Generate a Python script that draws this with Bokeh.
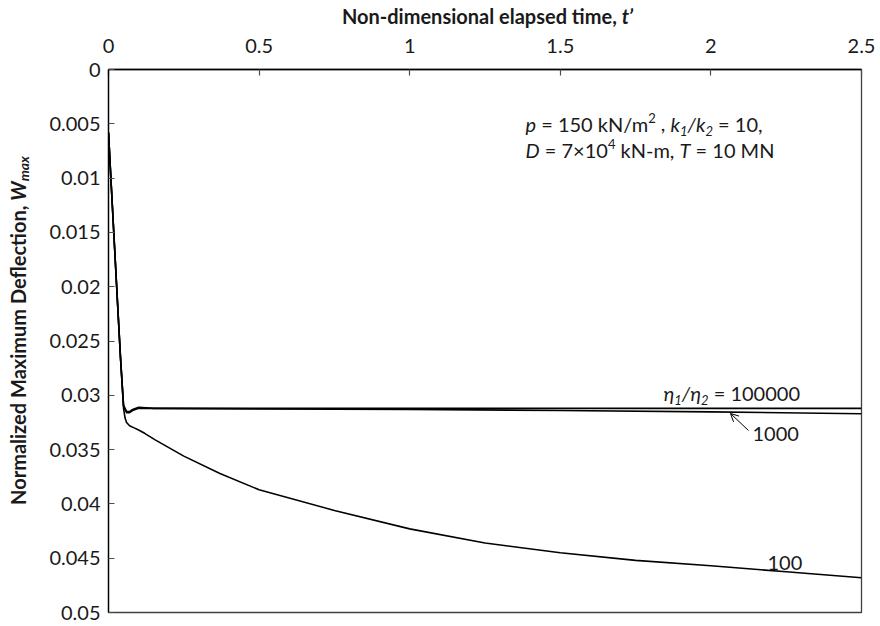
import glob
import math
import os

from bokeh.plotting import figure
from bokeh.layouts import row, column
from bokeh.models import Range1d, FixedTicker, Label, Arrow, OpenHead
from bokeh.embed import file_html
from bokeh.resources import INLINE

# ---- data: non-dimensional time t' vs normalized max deflection W_max ----
t_eta_100000 = [0.0, 0.01, 0.02, 0.03, 0.04, 0.05, 0.06, 0.07, 0.08, 0.10, 0.15,
                0.5, 1.0, 1.5, 2.0, 2.5]
w_eta_100000 = [0.0058, 0.0111, 0.0163, 0.0215, 0.0266, 0.0309, 0.0315, 0.0315,
                0.0313, 0.0311, 0.0312, 0.0312, 0.0312, 0.0312, 0.0312, 0.0312]

t_eta_1000 = [0.0, 0.01, 0.02, 0.03, 0.04, 0.05, 0.06, 0.07, 0.08, 0.10, 0.15,
              0.5, 1.0, 1.5, 2.0, 2.5]
w_eta_1000 = [0.0058, 0.0111, 0.0163, 0.0215, 0.0266, 0.0310, 0.0316, 0.0316,
              0.0314, 0.0312, 0.0312, 0.03125, 0.0313, 0.0314, 0.03153, 0.0317]

t_eta_100 = [0.0, 0.01, 0.02, 0.03, 0.04, 0.05, 0.055, 0.06, 0.07, 0.085, 0.10,
             0.12, 0.155, 0.25, 0.37, 0.5, 0.75, 1.0, 1.25, 1.5, 1.75, 2.0,
             2.25, 2.5]
w_eta_100 = [0.0058, 0.0111, 0.0163, 0.0215, 0.0266, 0.0312, 0.0321, 0.0325,
             0.0328, 0.0330, 0.0332, 0.0335, 0.0341, 0.0356, 0.0372, 0.0387,
             0.0406, 0.0423, 0.0436, 0.0445, 0.0452, 0.0457, 0.04625, 0.0468]

x_ticks = [0, 0.5, 1, 1.5, 2, 2.5]
x_tick_labels = ["0", "0.5", "1", "1.5", "2", "2.5"]
y_ticks = [0, 0.005, 0.01, 0.015, 0.02, 0.025, 0.03, 0.035, 0.04, 0.045, 0.05]
y_tick_labels = ["0", "0.005", "0.01", "0.015", "0.02", "0.025", "0.03",
                 "0.035", "0.04", "0.045", "0.05"]

# ---- page layout (pixels) ----
W, H = 880, 626
SIDE_W = 40          # strip on the left holding the vertical axis title
HEAD_H = 30          # strip on top holding the horizontal axis title
MAIN_W, MAIN_H = W - SIDE_W, H - HEAD_H
B_LEFT, B_RIGHT, B_TOP, B_BOTTOM = 68, 19, 39, 14
FRAME_L = SIDE_W + B_LEFT
FRAME_T = HEAD_H + B_TOP
FRAME_W = MAIN_W - B_LEFT - B_RIGHT
FRAME_H = MAIN_H - B_TOP - B_BOTTOM
X0, X1 = 0.0, 2.5
Y_TOP, Y_BOT = 0.0, 0.05

FONT = "Lato"
INK = "#1a1a1a"
BASELINE_FIX = 0.4   # label anchor sits this many font sizes above the baseline

# ---- text measuring, used to set mixed-style pieces side by side ----
_FONT_FILES = {"normal": "Lato-Regular.ttf", "italic": "Lato-Italic.ttf",
               "bold": "Lato-Bold.ttf", "bold italic": "Lato-BoldItalic.ttf"}
_font_cache = {}


def _font_path(fname):
    roots = ["/usr/share/fonts", "/usr/local/share/fonts",
             os.path.expanduser("~/.fonts"), os.path.expanduser("~/.local/share/fonts")]
    for root in roots:
        hits = glob.glob(os.path.join(root, "**", fname), recursive=True)
        if hits:
            return hits[0]
    return None


def text_width(s, size, style):
    key = (size, style)
    if key not in _font_cache:
        font = None
        try:
            from PIL import ImageFont
            path = _font_path(_FONT_FILES[style])
            if path:
                font = ImageFont.truetype(path, size)
        except Exception:
            font = None
        _font_cache[key] = font
    font = _font_cache[key]
    if font is None:
        return len(s) * 0.55 * size
    return font.getlength(s)


def rich(fig, to_data, px, py, pieces, angle=0.0, align="left"):
    """Lay out (text, size, style, rise) pieces one after another.
    px, py are page pixels of the baseline start; rise lifts a piece."""
    spans = []
    total = 0.0
    for s, size, style, rise in pieces:
        core = s.strip(" ")
        lead = (len(s) - len(s.lstrip(" "))) * text_width(" ", size, style)
        trail = (len(s) - len(s.rstrip(" "))) * text_width(" ", size, style)
        w = text_width(core, size, style)
        spans.append((total + lead, core, size, style, rise))
        total += lead + w + trail
    shift = {"left": 0.0, "center": total / 2, "right": total}[align]
    for off, core, size, style, rise in spans:
        if not core:
            continue
        d = off - shift
        lift = rise + BASELINE_FIX * size
        if angle == 0:
            sx, sy = px + d, py - lift
        else:  # rotated a quarter turn, reading bottom to top
            sx, sy = px - lift, py - d
        x, y = to_data(sx, sy)
        fig.add_layout(Label(x=x, y=y, text=core, text_font=FONT,
                             text_font_size=f"{size}px", text_font_style=style,
                             text_color=INK, text_align="left",
                             text_baseline="alphabetic", angle=angle))


# ---- main chart ----
p = figure(width=MAIN_W, height=MAIN_H, output_backend="svg", toolbar_location=None,
           x_range=Range1d(X0, X1), y_range=Range1d(Y_BOT, Y_TOP),
           x_axis_location="above",
           min_border_left=B_LEFT, min_border_right=B_RIGHT,
           min_border_top=B_TOP, min_border_bottom=B_BOTTOM,
           background_fill_color="white", border_fill_color="white")

p.xgrid.visible = False
p.ygrid.visible = False
p.outline_line_color = "#404040"
p.outline_line_width = 1.3

for ax, ticks, labels in ((p.xaxis[0], x_ticks, x_tick_labels),
                          (p.yaxis[0], y_ticks, y_tick_labels)):
    ax.ticker = FixedTicker(ticks=ticks)
    ax.major_label_overrides = dict(zip(ticks, labels))
    ax.axis_line_color = "black"
    ax.axis_line_width = 1.3
    ax.major_tick_in = 6
    ax.major_tick_out = 0
    ax.major_tick_line_color = "#4d4d4d"
    ax.major_tick_line_width = 1.2
    ax.minor_tick_line_color = None
    ax.major_label_text_font = FONT
    ax.major_label_text_font_size = "20px"
    ax.major_label_text_color = INK

p.yaxis.major_label_standoff = 8
p.xaxis.major_label_standoff = 17

for t, w in ((t_eta_100000, w_eta_100000), (t_eta_1000, w_eta_1000),
             (t_eta_100, w_eta_100)):
    p.line(t, w, line_color="black", line_width=1.6)


def main_data(px, py):
    """page pixel -> data coordinates of the main chart"""
    return (X0 + (px - FRAME_L) * (X1 - X0) / FRAME_W,
            Y_TOP + (py - FRAME_T) * (Y_BOT - Y_TOP) / FRAME_H)


N, I = "normal", "italic"
SUB, SUP = -5, 8

# parameter note
rich(p, main_data, 525, 131, [
    ("p", 20, I, 0), (" = 150 kN/m", 20, N, 0), ("2", 13, N, SUP), (" , ", 20, N, 0),
    ("k", 20, I, 0), ("1", 13, I, SUB), ("/", 20, I, 0), ("k", 20, I, 0),
    ("2", 13, I, SUB), (" = 10,", 20, N, 0)])
rich(p, main_data, 525, 157, [
    ("D", 20, I, 0), (" = 7\u00d710", 20, N, 0), ("4", 13, N, SUP),
    (" kN-m, ", 20, N, 0), ("T", 20, I, 0), (" = 10 MN", 20, N, 0)])

# curve labels
rich(p, main_data, 663, 400, [
    ("\u03b7", 20, I, 0), ("1", 13, I, SUB), ("/", 20, I, 0), ("\u03b7", 20, I, 0),
    ("2", 13, I, SUB), (" = 100000", 20, N, 0)])
rich(p, main_data, 752, 441, [("1000", 20, N, 0)])
rich(p, main_data, 767, 570, [("100", 20, N, 0)])

ax0, ay0 = main_data(748, 430)
ax1, ay1 = main_data(730, 413)
p.add_layout(Arrow(end=OpenHead(size=8, line_color="black", line_width=1),
                   x_start=ax0, y_start=ay0, x_end=ax1, y_end=ay1,
                   line_color="black", line_width=1))


# ---- title strips, addressed in page pixels ----
def strip(width, height, xr, yr):
    f = figure(width=width, height=height, output_backend="svg", toolbar_location=None,
               x_range=xr, y_range=yr, x_axis_location=None, y_axis_location=None,
               min_border=0, outline_line_color=None,
               background_fill_color="white", border_fill_color="white")
    f.grid.visible = False
    return f


# the head strip's frame lines up with the chart frame inside the column
head = strip(MAIN_W, HEAD_H, Range1d(FRAME_L, FRAME_L + FRAME_W), Range1d(HEAD_H, 0))
side = strip(SIDE_W, H, Range1d(0, SIDE_W), Range1d(H, 0))


def page(px, py):
    return px, py


rich(head, page, 487, 23, [("Non-dimensional elapsed time, ", 20, "bold", 0),
                           ("t\u2019", 20, "bold italic", 0)], align="center")

rich(side, page, 25, 330, [("Normalized Maximum Deflection, ", 20, "bold", 0),
                           ("W", 20, "bold italic", 0),
                           ("max", 14, "bold italic", -4)],
     angle=math.pi / 2, align="center")

layout = row(side, column(head, p, spacing=0), spacing=0)

open("out.html", "w").write(file_html(layout, INLINE))
